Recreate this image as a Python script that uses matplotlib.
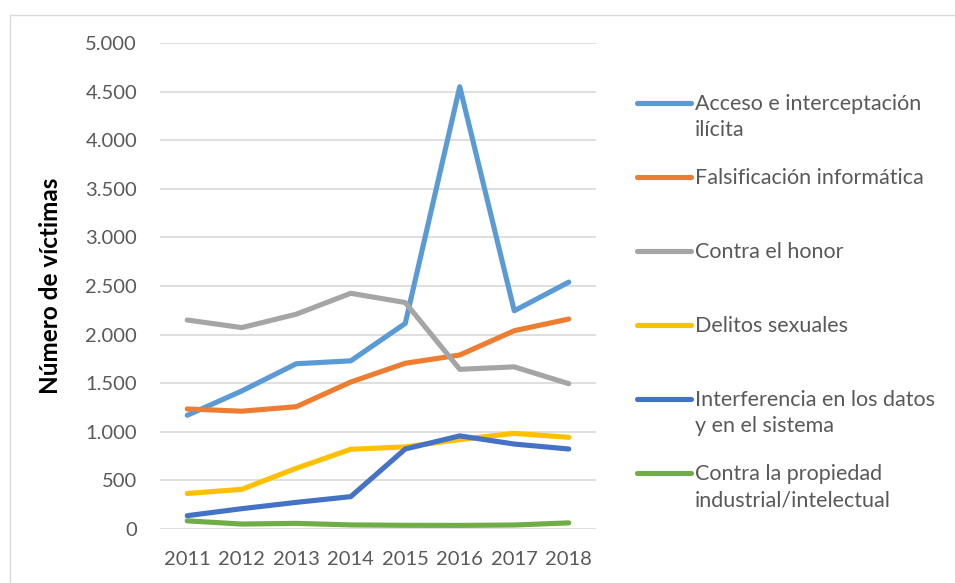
import matplotlib
matplotlib.use("Agg")
import matplotlib.pyplot as plt
from matplotlib.lines import Line2D
from matplotlib.patches import Rectangle

years = ["2011", "2012", "2013", "2014", "2015", "2016", "2017", "2018"]
acceso = [1170, 1420, 1700, 1730, 2115, 4550, 2245, 2540]
falsificacion = [1235, 1212, 1258, 1512, 1705, 1790, 2040, 2160]
honor = [2150, 2072, 2210, 2425, 2330, 1643, 1668, 1495]
sexuales = [365, 408, 625, 820, 845, 920, 984, 943]
interferencia = [137, 209, 274, 333, 823, 958, 874, 823]
propiedad = [84, 51, 58, 42, 38, 37, 41, 63]

labels = ["Acceso e interceptación\nilícita", "Falsificación informática",
          "Contra el honor", "Delitos sexuales",
          "Interferencia en los datos\ny en el sistema",
          "Contra la propiedad\nindustrial/intelectual"]
series = [acceso, falsificacion, honor, sexuales, interferencia, propiedad]
colors = ["#5B9BD5", "#ED7D31", "#A5A5A5", "#FFC000", "#4472C4", "#70AD47"]
yticks = [0, 500, 1000, 1500, 2000, 2500, 3000, 3500, 4000, 4500, 5000]
ytick_labels = ["0", "500", "1.000", "1.500", "2.000", "2.500", "3.000",
                "3.500", "4.000", "4.500", "5.000"]

plt.rcParams['font.family'] = ['Lato', 'DejaVu Sans']
W, H = 955, 583
fig = plt.figure(figsize=(W / 100, H / 100), dpi=100)

# chart border
fig.add_artist(Rectangle((10 / W, -0.01), 1.0, 1 - 15 / H + 0.01, transform=fig.transFigure,
                         fill=False, edgecolor="#D9D9D9", linewidth=1.0))

ax = fig.add_axes([160 / W, (H - 529) / H, (596 - 160) / W, (529 - 43) / H])
x = list(range(len(years)))
for s, c in zip(series, colors):
    ax.plot(x, s, color=c, linewidth=3.7, solid_capstyle="round", solid_joinstyle="round", zorder=3)

ax.set_xlim(-0.5, len(years) - 0.5)
ax.set_ylim(0, 5000)
ax.set_yticks(yticks)
ax.set_yticklabels(ytick_labels)
ax.set_xticks(x)
ax.set_xticklabels(years)
ax.tick_params(axis="both", length=0, labelsize=14.5, labelcolor="#595959")
ax.tick_params(axis="y", pad=16.5)
ax.tick_params(axis="x", pad=15.5)
ax.grid(axis="y", color="#D9D9D9", linewidth=1.2)
ax.set_axisbelow(True)
for sp in ax.spines.values():
    sp.set_visible(False)
ax.set_ylabel("Número de víctimas", fontsize=17.5, fontweight="bold", color="black")
ax.yaxis.set_label_coords((62 - 160) / 436, 0.5)

# legend
leg_y = [103, 177, 251, 325, 399, 473]
line_gap = 27
for lab, c, yy in zip(labels, colors, leg_y):
    fig.add_artist(Line2D([637 / W, 691 / W], [(H - yy) / H] * 2, transform=fig.transFigure,
                          color=c, linewidth=3.7, solid_capstyle="round"))
    n_extra = lab.count("\n")
    fig.text(695 / W, (H - yy - 6.5 - n_extra * line_gap) / H, lab, fontsize=15.5,
             color="#595959", va="baseline", ha="left", linespacing=1.4)

fig.savefig("out.png", dpi=100)
